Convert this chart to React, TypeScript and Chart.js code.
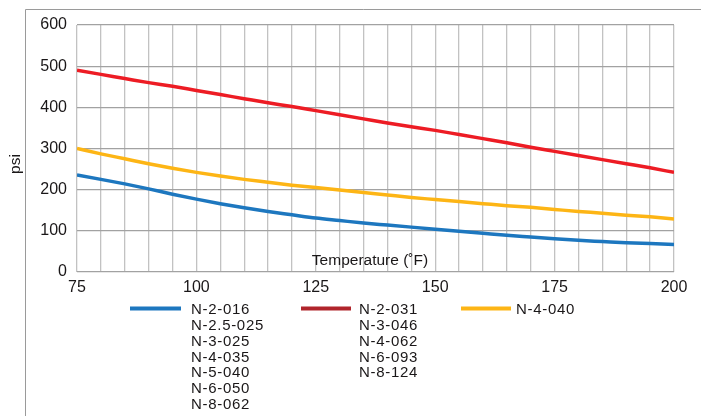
import React, { useEffect, useRef } from "react";
import { Chart, registerables } from "chart.js";

Chart.register(...registerables);

const temps = [75, 80, 85, 90, 95, 100, 105, 110, 115, 120, 125, 130, 135, 140, 145, 150, 155, 160, 165, 170, 175, 180, 185, 190, 195, 200];
const seriesBlue = [236, 225, 214, 202, 189, 177, 166, 156, 147, 139, 131, 125, 119, 114, 109, 104, 99, 94, 89, 85, 81, 77, 74, 71, 69, 67];
const seriesRed = [490, 480, 470, 460, 451, 441, 431, 421, 411, 402, 392, 382, 372, 362, 353, 344, 334, 324, 314, 303, 293, 283, 273, 263, 253, 242];
const seriesYellow = [300, 287, 275, 263, 252, 242, 233, 225, 218, 211, 205, 199, 193, 187, 181, 176, 171, 166, 161, 157, 152, 147, 143, 138, 134, 129];

const legendBlue = ["N-2-016", "N-2.5-025", "N-3-025", "N-4-035", "N-5-040", "N-6-050", "N-8-062"];
const legendRed = ["N-2-031", "N-3-046", "N-4-062", "N-6-093", "N-8-124"];
const legendYellow = ["N-4-040"];

const xTitle = "Temperature (˚F)";
const yTitle = "psi";

const BLUE = "#1d77bf";
const RED = "#ed1c24";
const RED_LEGEND = "#b0242b";
const YELLOW = "#fdb515";
const TEXT = "#1a1718";
const FONT = "Liberation Sans, Arial, Helvetica, sans-serif";

const overlayPlugin = {
  id: "overlay",
  afterDraw(chart: any) {
    const ctx = chart.ctx as CanvasRenderingContext2D;
    const area = chart.chartArea;
    ctx.save();
    // frame
    ctx.strokeStyle = "#9a9a9a";
    ctx.lineWidth = 1;
    ctx.beginPath();
    ctx.moveTo(25.5, 416);
    ctx.lineTo(25.5, 9.5);
    ctx.lineTo(701, 9.5);
    ctx.stroke();

    // axis titles
    ctx.fillStyle = TEXT;
    ctx.font = `15.5px ${FONT}`;
    ctx.textAlign = "center";
    ctx.textBaseline = "middle";
    ctx.fillText(xTitle, 370, area.bottom - 11);
    ctx.save();
    ctx.translate(16, 164);
    ctx.rotate(-Math.PI / 2);
    ctx.fillText(yTitle, 0, 0);
    ctx.restore();

    // legend
    const groups = [
      { color: BLUE, labels: legendBlue, x0: 130, x1: 181, tx: 191 },
      { color: RED_LEGEND, labels: legendRed, x0: 301, x1: 351, tx: 359 },
      { color: YELLOW, labels: legendYellow, x0: 461, x1: 511, tx: 516 },
    ];
    ctx.textAlign = "left";
    ctx.textBaseline = "middle";
    ctx.font = `15px ${FONT}`;
    (ctx as any).letterSpacing = "0.7px";
    for (const g of groups) {
      ctx.strokeStyle = g.color;
      ctx.lineWidth = 4;
      ctx.beginPath();
      ctx.moveTo(g.x0, 308.5);
      ctx.lineTo(g.x1, 308.5);
      ctx.stroke();
      g.labels.forEach((t, i) => {
        ctx.fillText(t, g.tx, 310 + i * 15.8);
      });
    }
    ctx.restore();
  },
};

export default function App() {
  const ref = useRef<HTMLCanvasElement | null>(null);
  useEffect(() => {
    document.body.style.margin = "0";
    const canvas = ref.current!;
    const mk = (label: string, data: number[], color: string, w: number) => ({
      label,
      data: temps.map((t, i) => ({ x: t, y: data[i] })),
      borderColor: color,
      backgroundColor: color,
      borderWidth: w,
      pointRadius: 0,
      cubicInterpolationMode: "monotone" as const,
      fill: false,
    });
    const chart = new Chart(canvas, {
      type: "line",
      data: {
        datasets: [
          mk(legendBlue.join(" "), seriesBlue, BLUE, 3.5),
          mk(legendRed.join(" "), seriesRed, RED, 3.5),
          mk(legendYellow.join(" "), seriesYellow, YELLOW, 3.5),
        ],
      },
      options: {
        animation: false,
        responsive: false,
        maintainAspectRatio: false,
        devicePixelRatio: 1,
        layout: { padding: { left: 0, right: 27, top: 25, bottom: 0 } },
        plugins: { legend: { display: false }, tooltip: { enabled: false } },
        scales: {
          x: {
            type: "linear",
            min: 75,
            max: 200,
            border: { display: false },
            grid: { color: "#c2c2c2", lineWidth: 1.3, drawTicks: false },
            ticks: {
              stepSize: 5,
              autoSkip: false,
              maxRotation: 0,
              padding: 6,
              color: TEXT,
              font: { size: 16, family: FONT },
              callback: (v: any) => (Number(v) % 25 === 0 ? String(v) : ""),
            },
            afterFit: (s: any) => {
              s.height = 144;
            },
          },
          y: {
            min: 0,
            max: 600,
            border: { display: false },
            grid: { color: "#a2a2a2", lineWidth: 1.2, drawTicks: false },
            ticks: {
              stepSize: 100,
              padding: 10,
              color: TEXT,
              font: { size: 16, family: FONT },
            },
            afterFit: (s: any) => {
              s.width = 77;
            },
          },
        },
      },
      plugins: [overlayPlugin],
    });
    return () => chart.destroy();
  }, []);
  return (
    <div style={{ position: "absolute", left: 0, top: 0, width: 701, height: 416 }}>
      <canvas ref={ref} width={701} height={416} style={{ width: 701, height: 416, display: "block" }} />
    </div>
  );
}
